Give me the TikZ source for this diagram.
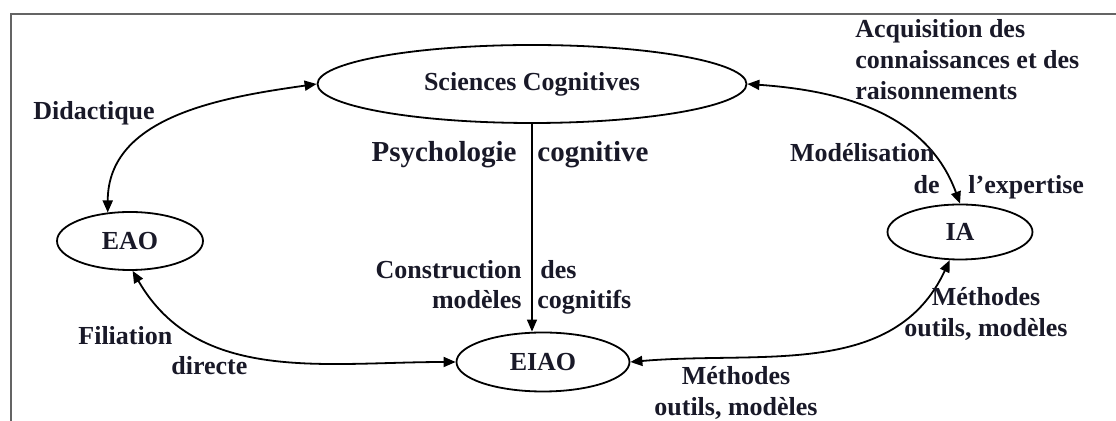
\documentclass[tikz,border=0pt]{standalone}
\usepackage{fontspec}
\setmainfont{Liberation Serif}
\usetikzlibrary{arrows.meta,shapes.geometric}
\definecolor{ink}{RGB}{25,25,40}
\definecolor{framegray}{RGB}{100,100,100}

\begin{document}
\begin{tikzpicture}[x=0.5pt,y=-0.5pt,>={Triangle[length=6pt,width=5pt]},
 font=\fontsize{13}{15.5}\selectfont\bfseries,
 blob/.style={ellipse,draw,line width=0.9pt,inner sep=0pt,text=ink},
 lbl/.style={text=ink,inner sep=0pt},
 link/.style={<->,line width=0.9pt}]
\useasboundingbox (0,0) rectangle (1116,421);
% open frame (top and left only)
\draw[framegray,line width=1pt] (11,421) -- (11,14) -- (1116,14);
% the four fields
\node[blob,minimum width=214.5pt,minimum height=39pt] (sc) at (532,84) {Sciences Cognitives};
\node[blob,minimum width=73pt,minimum height=29pt] (eao) at (130,241) {EAO};
\node[blob,minimum width=72.5pt,minimum height=27.5pt] (ia) at (960,232) {IA};
\node[blob,minimum width=86.5pt,minimum height=29.5pt] (eiao) at (543,362) {EIAO};
% links
\draw[link] (eao.128) to[out=90,in=188] (sc.west);
\draw[link] (sc.east) to[out=-4,in=110] (ia.north);
\draw[link] (eao.275) to[out=-60,in=180] (eiao.west);
\draw[link] (eiao.east) to[out=5,in=-115] (ia.250);
\draw[->,line width=0.7pt] (sc.south) -- (sc.south |- eiao.north);
% labels
\node[lbl,anchor=base west] (didac) at (33,120) {Didactique};
\node[lbl,anchor=base east,font=\fontsize{14.5}{17}\selectfont\bfseries] (psy) at (517,162) {Psychologie};
\node[lbl,anchor=base west,font=\fontsize{14.5}{17}\selectfont\bfseries] (psycog) at (537,162) {cognitive};
\node[lbl,anchor=base east] (constr) at (522,279) {Construction};
\node[lbl,anchor=base west] (constrdes) at (540,279) {des};
\node[lbl,anchor=base east] (modl) at (522,309) {modèles};
\node[lbl,anchor=base west] (modlcog) at (537,309) {cognitifs};
\node[lbl,anchor=north west,align=left] (acq) at (855,19) {Acquisition des\\connaissances et des\\raisonnements};
\node[lbl,anchor=base east] (model) at (935,162) {Modélisation};
\node[lbl,anchor=base east] (modelde) at (940,194) {de};
\node[lbl,anchor=base west] (expert) at (968,194) {l'expertise};
\node[lbl,anchor=base west] (filia) at (78,345) {Filiation};
\node[lbl,anchor=base west] (direct) at (171,375) {directe};
\node[lbl,anchor=north,align=center] (methia) at (986,287) {Méthodes\\outils, modèles};
\node[lbl,anchor=north,align=center] (metheiao) at (736,366) {Méthodes\\outils, modèles};
\end{tikzpicture}
\end{document}
